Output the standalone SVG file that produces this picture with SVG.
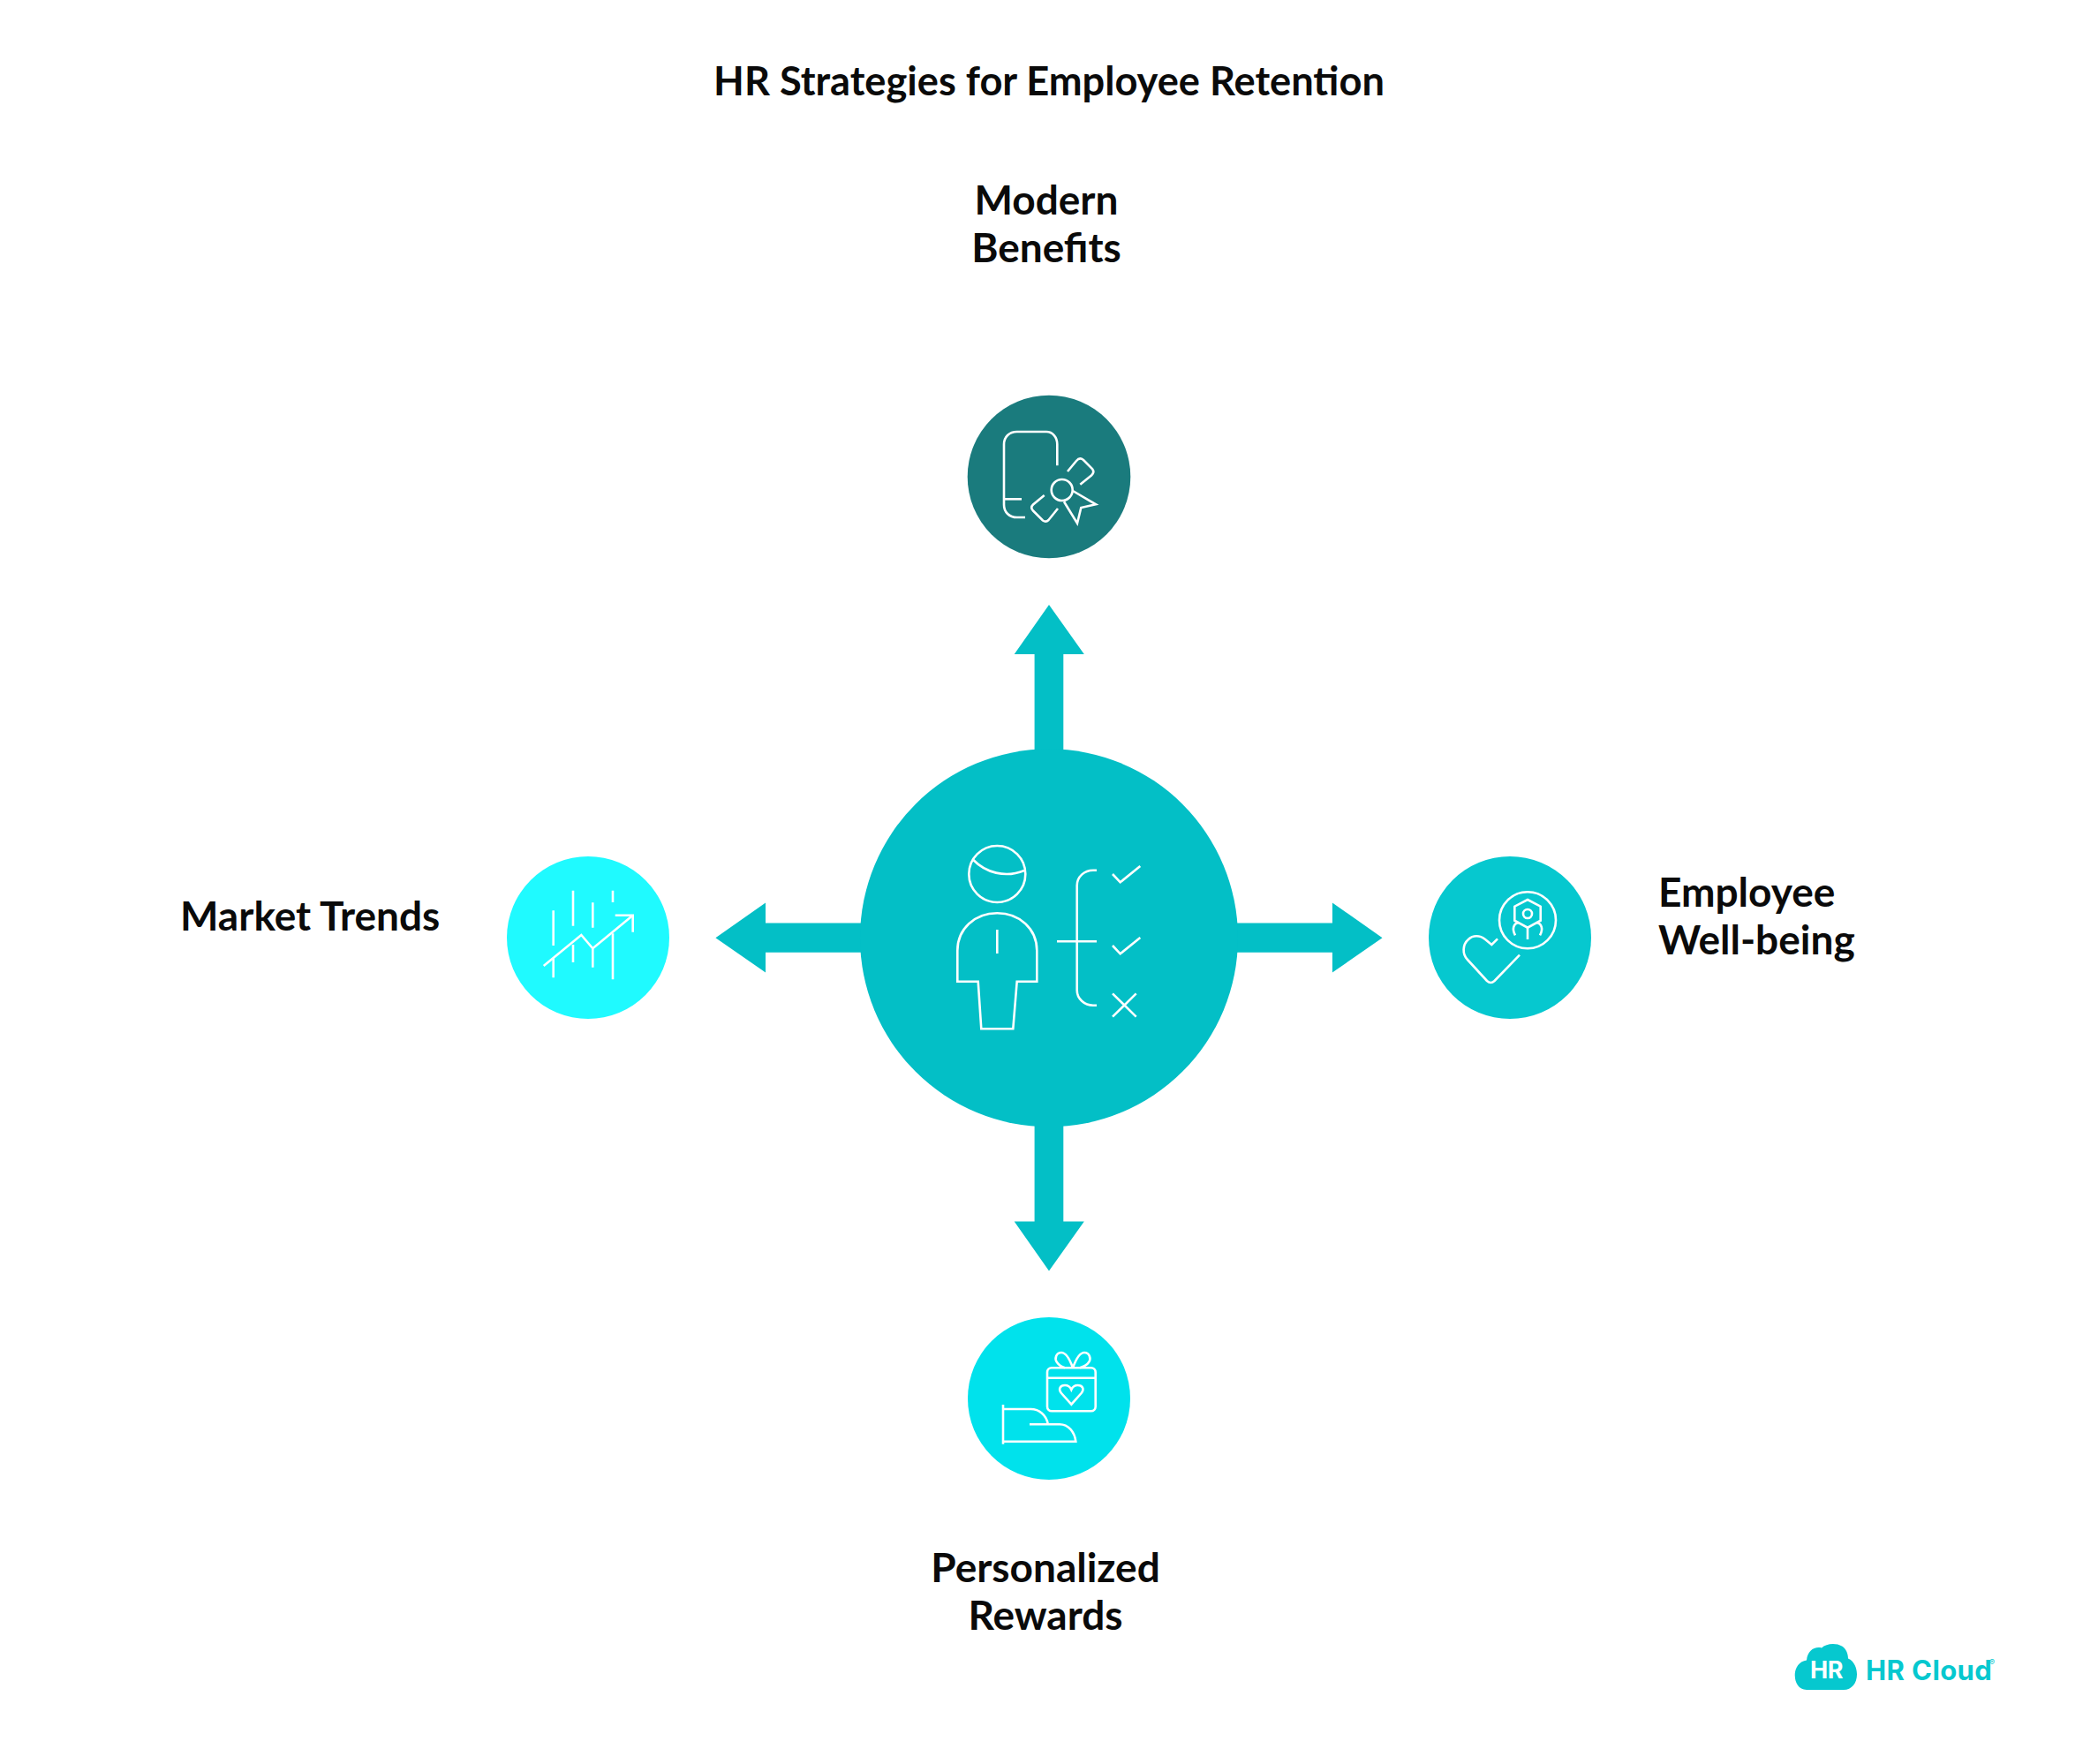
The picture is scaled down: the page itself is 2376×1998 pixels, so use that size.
<svg xmlns="http://www.w3.org/2000/svg" width="2376" height="1998" viewBox="0 0 2376 1998">
<style>
.t{font-family:Lato,"Liberation Sans",sans-serif;font-weight:700;font-size:46px;fill:#0a0a0a}
.i{fill:none;stroke:#fff;stroke-width:2.6}
.a{fill:#03bfc6}
.lg{font-family:Inter,"Liberation Sans",sans-serif;font-weight:700;fill:#06c8cf}
</style>
<rect width="2376" height="1998" fill="#fff"/>
<text id="title" class="t" x="1188" y="107.500" text-anchor="middle" style="font-size:45.200px">HR Strategies for Employee Retention</text>
<g id="connectors">
<polygon class="a" points="1171.6,860 1171.6,741 1148.7,741 1188,685 1227.8,741 1204.3,741 1204.3,860"/>
<polygon class="a" points="1171.6,1270 1171.6,1383.500 1148.7,1383.500 1188,1439.500 1227.8,1383.500 1204.3,1383.500 1204.3,1270"/>
<polygon class="a" points="985,1045.5 867,1045.5 867,1022.5 810.4,1062.300 867,1101.6 867,1078.7 985,1078.7"/>
<polygon class="a" points="1395,1045.5 1508.9,1045.5 1508.9,1022.5 1565.5,1062.300 1508.9,1101.6 1508.9,1078.7 1395,1078.7"/>
</g>
<g id="center">
<circle class="a" cx="1188" cy="1062.300" r="214"/>
<g class="i">
<circle cx="1129.3" cy="990" r="32"/>
<path d="M1102.3 974C1116 988 1138 995 1160 986"/>
<path d="M1084.3 1111.7V1076.7C1084.3 1052 1104 1034.3 1129.3 1034.3S1174.3 1052 1174.3 1076.7V1111.7H1151.7L1147.3 1165.3H1111.3L1107.7 1111.7Z"/>
<path d="M1129.3 1053V1080"/>
<path d="M1242 985.7H1238C1228 985.7 1219.7 993 1219.7 1003V1121.7C1219.7 1131 1228 1138.7 1238 1138.7H1242"/>
<path d="M1197 1066.3H1242"/>
<path d="M1260 990L1268.7 999.3L1291.3 981"/>
<path d="M1260 1071L1268.7 1080.3L1291.3 1062"/>
<path d="M1260 1125.3L1286.7 1151.7M1286.7 1125.3L1260 1151.7"/>
</g>
</g>
<g id="modern-benefits">
<circle cx="1188" cy="540" r="92.3" fill="#1a7b7d"/>
<g class="i">
<path d="M1197.3 527.3V503.3C1197.3 495 1192 489 1185 489H1151.7C1143 489 1137 495 1137 503.3V571.7C1137 580 1143 586 1151.7 586H1161"/>
<path d="M1137 565.3H1157"/>
<path d="M1209 534L1219 522Q1222.7 517.5 1227 521L1237 531Q1240 535 1236 538.5L1223.3 548.7"/>
<path d="M1182.7 561L1170 571.5Q1166.5 575 1170 578.5L1181 589.5Q1184.5 592 1187.5 589L1198 576"/>
<circle cx="1202.7" cy="555" r="12"/>
<path d="M1205 568.3L1220 592.7L1224.3 575L1241 571.3L1215 556"/>
</g>
<text class="t" x="1185" y="243" text-anchor="middle">Modern</text>
<text class="t" x="1185" y="297" text-anchor="middle">Benefits</text>
</g>
<g id="employee-wellbeing">
<circle cx="1710" cy="1062" r="92" fill="#06c8cf"/>
<g class="i">
<path d="M1696 1063.3L1689.3 1070L1682 1064C1676 1059 1668 1059 1663 1064C1656 1070 1656 1081 1662 1087L1684 1111Q1688.3 1115 1692.5 1111L1721 1081.7"/>
<circle cx="1730" cy="1042.3" r="32"/>
<path d="M1730 1019L1744.7 1026.7V1042.7L1730 1050.7L1715.3 1042.7V1026.7Z"/>
<circle cx="1730" cy="1035" r="5"/>
<path d="M1730 1050.7V1064"/>
<path d="M1716 1059.3C1712 1052 1714 1046 1720 1045M1744 1059.3C1748 1052 1746 1046 1740 1045"/>
</g>
<text class="t" x="1878" y="1026.500">Employee</text>
<text class="t" x="1878" y="1080.500">Well-being</text>
</g>
<g id="personalized-rewards">
<circle cx="1188" cy="1584" r="92" fill="#00e2ec"/>
<g class="i">
<path d="M1136 1591V1635.7"/>
<path d="M1136 1596H1167.3C1177 1596 1185 1603 1186.7 1612.7"/>
<path d="M1166 1613.3H1200C1210 1613.3 1217 1622 1218.3 1632.7H1136"/>
<rect x="1186" y="1549.3" width="54.700" height="49" rx="5"/>
<path d="M1186 1560.700H1240.700"/>
<path d="M1213.300 1590.700L1202 1578C1198 1573 1201 1569 1206 1569C1209 1569 1212 1571 1213.300 1574C1214.600 1571 1217.600 1569 1220.600 1569C1225.600 1569 1228.600 1573 1224.600 1578Z"/>
<path d="M1215 1549.300C1212 1541 1208 1532 1202 1532C1196 1532 1194 1539 1197 1543C1199 1546 1202 1548 1206 1549.300M1215 1549.300C1218 1541 1222 1532 1228 1532C1234 1532 1236 1539 1233 1543C1231 1546 1227 1548 1223 1549.300"/>
</g>
<text class="t" x="1184" y="1792" text-anchor="middle">Personalized</text>
<text class="t" x="1184" y="1846" text-anchor="middle">Rewards</text>
</g>
<g id="market-trends">
<circle cx="666" cy="1062" r="92" fill="#1ffaff"/>
<g class="i">
<path d="M626.700 1031.300V1071M626.700 1085V1107.300M649 1008.700V1048.700M649 1070V1090M671.300 1022.300V1050.700M671.300 1075V1095.700M694 1008.700V1022M694 1057.300V1109.300"/>
<path d="M615.700 1094L658.300 1059L671.300 1074.300L716.700 1036.700"/>
<path d="M696.700 1036.700H716.700V1055.700"/>
</g>
<text class="t" x="204" y="1053.500">Market Trends</text>
</g>
<g id="logo">
<path fill="#06c8cf" d="M2046 1914C2037 1914 2032.700 1905.500 2032.700 1897.500C2032.700 1888.500 2038 1881.500 2046 1880.500C2047 1869.500 2055 1864.500 2063 1866.500C2068 1861.500 2079 1860.500 2086 1864.500C2091 1867.500 2093 1873.500 2093 1878.500C2100 1881.500 2103 1889.500 2103 1896.500C2103 1906.500 2097 1914 2088 1914Z"/>
<text class="lg" x="2050" y="1900.500" font-size="27" letter-spacing="-0.500" style="fill:#fff">HR</text>
<text class="lg" x="2113" y="1902.500" font-size="31" letter-spacing="0.400">HR Cloud</text>
<text class="lg" x="2253" y="1885.500" font-size="9" style="font-weight:400">®</text>
</g>
</svg>
